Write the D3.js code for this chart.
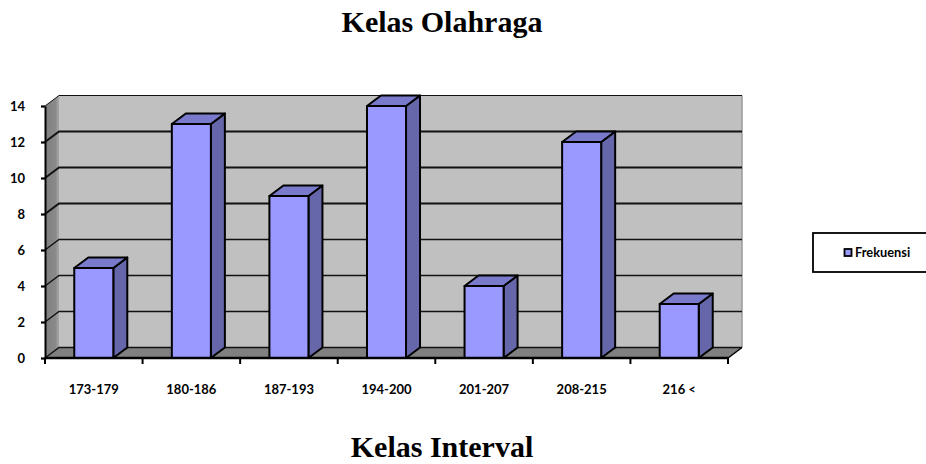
<!DOCTYPE html>
<html>
<head>
<meta charset="utf-8">
<script src="https://cdn.jsdelivr.net/npm/d3@7"></script>
<style>
  html, body { margin: 0; padding: 0; background: #fff; }
  svg { display: block; }
  text { fill: #000; }
  .title { font-family: "Liberation Serif", serif; font-weight: bold; font-size: 30px; }
  .lbl { font-family: Lato, sans-serif; font-weight: bold; }
</style>
</head>
<body>
<script>
let w = 926;
let h = 464;

let categories = ["173-179", "180-186", "187-193", "194-200", "201-207", "208-215", "216 <"];
let frekuensi = [5, 13, 9, 14, 4, 12, 3];
let yTicks = [0, 2, 4, 6, 8, 10, 12, 14];

// depth of the fake 3d box
let dx = 14;
let dy = 10.5;

let xScale = d3.scaleBand()
               .domain(categories)
               .range([45, 728])
               .paddingInner(0.6)
               .paddingOuter(0.3);
let yScale = d3.scaleLinear()
               .domain([0, 14])
               .range([358, 106]);

let x0 = xScale.range()[0];
let x1 = xScale.range()[1];
let yBase = yScale(0);
let yTop = yScale(14);

let svg = d3.select("body")
            .append("svg")
            .attr("width", w)
            .attr("height", h);

function poly(pts) {
    return "M" + pts.map(function(p) { return p.join(","); }).join("L") + "Z";
}

// left wall
let grad = svg.append("defs").append("linearGradient").attr("id", "wall");
grad.append("stop").attr("offset", "0%").attr("stop-color", "#7f7f7f");
grad.append("stop").attr("offset", "75%").attr("stop-color", "#8a8a8a");
grad.append("stop").attr("offset", "100%").attr("stop-color", "#a8a8a8");

svg.append("path")
   .attr("d", poly([[x0, yBase], [x0 + dx, yBase - dy], [x0 + dx, yTop - dy], [x0, yTop]]))
   .attr("fill", "url(#wall)");

// back wall
svg.append("rect")
   .attr("x", x0 + dx)
   .attr("y", yTop - dy)
   .attr("width", x1 - x0)
   .attr("height", yBase - yTop)
   .attr("fill", "#c0c0c0");
svg.append("line")
   .attr("x1", x1 + dx).attr("x2", x1 + dx)
   .attr("y1", yTop - dy).attr("y2", yBase - dy)
   .attr("stroke", "#9a9a9a")
   .attr("stroke-width", 1.5);

// floor
svg.append("path")
   .attr("d", poly([[x0, yBase], [x0 + dx, yBase - dy], [x1 + dx, yBase - dy], [x1, yBase]]))
   .attr("fill", "#808080");

// grid lines, back wall + diagonal on the left wall
svg.selectAll(".grid")
   .data(yTicks)
   .enter()
   .append("path")
   .attr("class", "grid")
   .attr("fill", "none")
   .attr("stroke", "#111")
   .attr("stroke-width", function(d) {
       if (d == 14) return 1;
       return d >= 8 ? 2 : 1.4;
   })
   .attr("d", function(d) {
       return "M" + x0 + "," + yScale(d) + "L" + (x0 + dx) + "," + (yScale(d) - dy) + "L" + (x1 + dx) + "," + (yScale(d) - dy);
   });

// bars
let bars = svg.selectAll(".bar")
              .data(frekuensi)
              .enter()
              .append("g")
              .attr("class", "bar")
              .attr("stroke", "#000")
              .attr("stroke-width", 2)
              .attr("stroke-linejoin", "round");
let bw = xScale.bandwidth();

bars.append("path")
    .attr("fill", "#6666aa")
    .attr("d", function(d, i) {
        let x = xScale(categories[i]) + bw;
        return poly([[x, yBase], [x + dx, yBase - dy], [x + dx, yScale(d) - dy], [x, yScale(d)]]);
    });
bars.append("path")
    .attr("fill", "#7a7acc")
    .attr("d", function(d, i) {
        let x = xScale(categories[i]);
        return poly([[x, yScale(d)], [x + dx, yScale(d) - dy], [x + bw + dx, yScale(d) - dy], [x + bw, yScale(d)]]);
    });
bars.append("rect")
    .attr("fill", "#9999ff")
    .attr("x", function(d, i) { return xScale(categories[i]); })
    .attr("y", function(d) { return yScale(d); })
    .attr("width", bw)
    .attr("height", function(d) { return yBase - yScale(d); });

// y axis
let yAxis = svg.append("g")
               .attr("transform", "translate(" + x0 + ",0)")
               .call(d3.axisLeft(yScale).tickValues(yTicks).tickSizeInner(4).tickSizeOuter(0).tickPadding(16));
yAxis.selectAll("line").attr("stroke", "#000").attr("stroke-width", 2.2);
yAxis.select(".domain").attr("stroke", "#000").attr("stroke-width", 2);
yAxis.selectAll("text")
     .attr("class", "lbl")
     .attr("font-size", null)
     .style("font-size", "13px");

// x axis, ticks sit on the band edges so it is drawn from the band step
let xEdges = d3.range(categories.length + 1).map(function(i) {
    return x0 + i * xScale.step();
});
let xAxisG = svg.append("g");
xAxisG.append("line")
      .attr("x1", x0).attr("x2", x1)
      .attr("y1", yBase).attr("y2", yBase)
      .attr("stroke", "#000")
      .attr("stroke-width", 2.5);
// closing diagonal at the right end of the floor
xAxisG.append("line")
      .attr("x1", x1).attr("x2", x1 + dx)
      .attr("y1", yBase).attr("y2", yBase - dy)
      .attr("stroke", "#000")
      .attr("stroke-width", 1.5);
xAxisG.selectAll(".tick")
      .data(xEdges)
      .enter()
      .append("line")
      .attr("x1", function(d) { return d; })
      .attr("x2", function(d) { return d; })
      .attr("y1", yBase)
      .attr("y2", yBase + 6)
      .attr("stroke", "#000")
      .attr("stroke-width", 2);
xAxisG.selectAll("text")
      .data(categories)
      .enter()
      .append("text")
      .attr("class", "lbl")
      .attr("text-anchor", "middle")
      .attr("x", function(d) { return xScale(d) + bw / 2; })
      .attr("y", 394)
      .style("font-size", "13px")
      .text(function(d) { return d; });

// titles
svg.append("text")
   .attr("class", "title")
   .attr("text-anchor", "middle")
   .attr("x", 442)
   .attr("y", 32)
   .text("Kelas Olahraga");
svg.append("text")
   .attr("class", "title")
   .attr("text-anchor", "middle")
   .attr("x", 442)
   .attr("y", 457)
   .text("Kelas Interval");

// legend
let legend = svg.append("g");
legend.append("rect")
      .attr("x", 813)
      .attr("y", 233)
      .attr("width", 116)
      .attr("height", 39)
      .attr("fill", "#fff")
      .attr("stroke", "#000")
      .attr("stroke-width", 1.8);
legend.append("rect")
      .attr("x", 844.5)
      .attr("y", 249)
      .attr("width", 7)
      .attr("height", 7)
      .attr("fill", "#9999ff")
      .attr("stroke", "#000")
      .attr("stroke-width", 1.8);
legend.append("text")
      .attr("class", "lbl")
      .attr("x", 855)
      .attr("y", 257)
      .style("font-size", "12.8px")
      .text("Frekuensi");
</script>
</body>
</html>
